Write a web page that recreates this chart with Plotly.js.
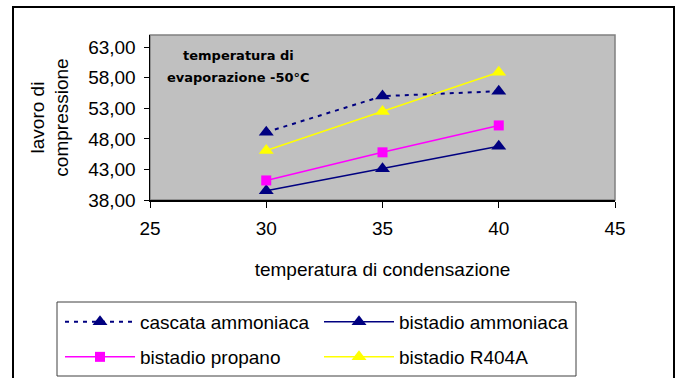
<!DOCTYPE html>
<html>
<head>
<meta charset="utf-8">
<script src="https://cdn.plot.ly/plotly-3.0.1.min.js"></script>
<style>
  html, body { margin: 0; padding: 0; background: #fff; }
  #chart { width: 678px; height: 378px; }
</style>
</head>
<body>
<div id="chart"></div>
<script>
// Condensation temperature (°C)
const tempCondensazione = [30, 35, 40];

// Compression work per system
const cascataAmmoniaca  = [49.1, 55.0, 55.8];
const bistadioAmmoniaca = [39.5, 43.1, 46.8];
const bistadioPropano   = [41.2, 45.8, 50.2];
const bistadioR404A     = [46.1, 52.5, 58.9];

const seriesNames = ['cascata ammoniaca', 'bistadio ammoniaca', 'bistadio propano', 'bistadio R404A'];

const yTicks = [38, 43, 48, 53, 58, 63];
const xTicks = [25, 30, 35, 40, 45];

const FONT = 'Liberation Sans, Arial, sans-serif';
const FS = 19;
const NAVY = '#000080';

// plot area in pixels
const L = 150, R = 615, T = 35, B = 200;
const W = 678, H = 378;
const pw = R - L, ph = B - T;
const px = x => (x - L) / pw;
const py = y => (B - y) / ph;

const traces = [
  {
    x: tempCondensazione, y: cascataAmmoniaca, name: seriesNames[0],
    mode: 'lines+markers', legend: 'legend',
    line: { color: NAVY, width: 2, dash: '4px,5px' },
    marker: { symbol: 'triangle-up', size: 13, color: NAVY }
  },
  {
    x: tempCondensazione, y: bistadioAmmoniaca, name: seriesNames[1],
    mode: 'lines+markers', legend: 'legend',
    line: { color: NAVY, width: 1.5 },
    marker: { symbol: 'triangle-up', size: 13, color: NAVY }
  },
  {
    x: tempCondensazione, y: bistadioPropano, name: seriesNames[2],
    mode: 'lines+markers', legend: 'legend2',
    line: { color: '#FF00FF', width: 1.5 },
    marker: { symbol: 'square', size: 10, color: '#FF00FF' }
  },
  {
    x: tempCondensazione, y: bistadioR404A, name: seriesNames[3],
    mode: 'lines+markers', legend: 'legend2',
    line: { color: '#FFFF00', width: 1.5 },
    marker: { symbol: 'triangle-up', size: 13, color: '#FFFF00' }
  }
];

const legendCommon = {
  orientation: 'h',
  xanchor: 'left', yanchor: 'middle',
  x: px(60),
  entrywidth: 174, entrywidthmode: 'pixels',
  itemwidth: 70,
  bgcolor: 'rgba(0,0,0,0)',
  borderwidth: 0,
  font: { family: FONT, size: FS, color: '#000' },
  traceorder: 'normal',
  itemclick: false
};

const layout = {
  width: W, height: H,
  margin: { l: L, r: W - R, t: T, b: H - B, pad: 0, autoexpand: false },
  paper_bgcolor: '#ffffff',
  plot_bgcolor: '#C0C0C0',
  separators: ',.',
  font: { family: FONT, size: FS, color: '#000' },
  showlegend: true,
  legend: Object.assign({}, legendCommon, { y: py(322) }),
  legend2: Object.assign({}, legendCommon, { y: py(357) }),
  xaxis: {
    range: [25, 45],
    tickvals: xTicks,
    ticktext: xTicks.map(String),
    showgrid: false, zeroline: false,
    showline: true, linecolor: '#000', linewidth: 1.5,
    ticks: 'outside', ticklen: 6, tickcolor: '#000', tickwidth: 1,
    ticklabelstandoff: 5,
    tickfont: { family: FONT, size: FS },
    title: { text: 'temperatura di condensazione', font: { family: FONT, size: FS }, standoff: 24 },
    automargin: false,
    fixedrange: true
  },
  yaxis: {
    range: [38, 65],
    tickvals: yTicks,
    tickformat: '.2f',
    showgrid: false, zeroline: false,
    showline: true, linecolor: '#000', linewidth: 1.5,
    ticks: 'outside', ticklen: 5, tickcolor: '#000', tickwidth: 1,
    ticklabelstandoff: 4,
    tickfont: { family: FONT, size: FS },
    title: { text: 'lavoro di<br>compressione', font: { family: FONT, size: FS }, standoff: 14 },
    automargin: false,
    fixedrange: true
  },
  shapes: [
    // grey frame of the plot area
    { type: 'rect', xref: 'paper', yref: 'paper', x0: 0, x1: 1, y0: 0, y1: 1,
      line: { color: '#808080', width: 1.5 }, layer: 'below' },
    // outer chart frame
    { type: 'rect', xref: 'paper', yref: 'paper',
      x0: px(13), x1: px(674), y0: py(430), y1: py(7),
      line: { color: '#000', width: 2 } },
    // legend box
    { type: 'rect', xref: 'paper', yref: 'paper',
      x0: px(57), x1: px(576), y0: py(376), y1: py(302),
      line: { color: '#404040', width: 1 }, fillcolor: 'rgba(0,0,0,0)' }
  ],
  annotations: [
    {
      xref: 'paper', yref: 'paper', x: px(238), y: py(55),
      xanchor: 'center', yanchor: 'middle', showarrow: false,
      text: '<b>temperatura di</b>',
      font: { family: 'DejaVu Sans, sans-serif', size: 13, color: '#000' }
    },
    {
      xref: 'paper', yref: 'paper', x: px(238), y: py(77),
      xanchor: 'center', yanchor: 'middle', showarrow: false,
      text: '<b>evaporazione -50°C</b>',
      font: { family: 'DejaVu Sans, sans-serif', size: 13, color: '#000' }
    }
  ]
};

Plotly.newPlot('chart', traces, layout, { displayModeBar: false, staticPlot: true });
</script>
</body>
</html>
